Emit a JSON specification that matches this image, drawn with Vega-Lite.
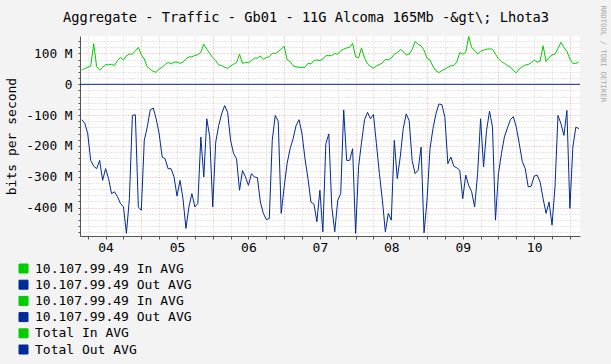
{
"$schema": "https://vega.github.io/schema/vega-lite/v6.json",
"width": 500, "height": 200,
"autosize": {"type": "none"},
"padding": {"left": 80, "top": 36, "right": 31, "bottom": 128},
"background": "#f3f3f3",
"view": {"fill": "#ffffff", "stroke": null},
"title": {"text": "Aggregate - Traffic - Gb01 - 11G Alcoma 165Mb -&gt\\; Lhota3", "font": "DejaVu Sans Mono", "fontSize": 13.7, "fontWeight": "normal", "color": "#000", "anchor": "middle", "frame": "group", "dx": -24, "offset": -19.5},
"layer": [
{
"data": {"values": [
{"t":"2024-06-04T04:00","In":46,"Out":-115},{"t":"2024-06-04T05:00","In":51,"Out":-126},{"t":"2024-06-04T06:00","In":55,"Out":-161},{"t":"2024-06-04T07:00","In":59,"Out":-247},{"t":"2024-06-04T08:00","In":132,"Out":-266},{"t":"2024-06-04T09:00","In":57,"Out":-274},{"t":"2024-06-04T10:00","In":46,"Out":-247},{"t":"2024-06-04T11:00","In":55,"Out":-312},{"t":"2024-06-04T12:00","In":64,"Out":-274},{"t":"2024-06-04T13:00","In":63,"Out":-306},{"t":"2024-06-04T14:00","In":65,"Out":-355},{"t":"2024-06-04T15:00","In":61,"Out":-349},{"t":"2024-06-04T16:00","In":77,"Out":-365},{"t":"2024-06-04T17:00","In":87,"Out":-387},{"t":"2024-06-04T18:00","In":79,"Out":-398},{"t":"2024-06-04T19:00","In":93,"Out":-484},{"t":"2024-06-04T20:00","In":98,"Out":-371},{"t":"2024-06-04T21:00","In":98,"Out":-101},{"t":"2024-06-04T22:00","In":109,"Out":-99},{"t":"2024-06-04T23:00","In":120,"Out":-398},
{"t":"2024-06-05T00:00","In":96,"Out":-409},{"t":"2024-06-05T01:00","In":82,"Out":-182},{"t":"2024-06-05T02:00","In":57,"Out":-139},{"t":"2024-06-05T03:00","In":49,"Out":-83},{"t":"2024-06-05T04:00","In":42,"Out":-77},{"t":"2024-06-05T05:00","In":39,"Out":-112},{"t":"2024-06-05T06:00","In":50,"Out":-161},{"t":"2024-06-05T07:00","In":55,"Out":-236},{"t":"2024-06-05T08:00","In":64,"Out":-242},{"t":"2024-06-05T09:00","In":71,"Out":-274},{"t":"2024-06-05T10:00","In":66,"Out":-274},{"t":"2024-06-05T11:00","In":72,"Out":-301},{"t":"2024-06-05T12:00","In":72,"Out":-363},{"t":"2024-06-05T13:00","In":68,"Out":-312},{"t":"2024-06-05T14:00","In":72,"Out":-371},{"t":"2024-06-05T15:00","In":82,"Out":-468},{"t":"2024-06-05T16:00","In":89,"Out":-398},{"t":"2024-06-05T17:00","In":89,"Out":-355},{"t":"2024-06-05T18:00","In":94,"Out":-398},{"t":"2024-06-05T19:00","In":96,"Out":-387},{"t":"2024-06-05T20:00","In":104,"Out":-171},{"t":"2024-06-05T21:00","In":130,"Out":-301},{"t":"2024-06-05T22:00","In":114,"Out":-112},{"t":"2024-06-05T23:00","In":100,"Out":-171},
{"t":"2024-06-06T00:00","In":87,"Out":-398},{"t":"2024-06-06T01:00","In":77,"Out":-188},{"t":"2024-06-06T02:00","In":63,"Out":-134},{"t":"2024-06-06T03:00","In":61,"Out":-96},{"t":"2024-06-06T04:00","In":55,"Out":-69},{"t":"2024-06-06T05:00","In":52,"Out":-91},{"t":"2024-06-06T06:00","In":59,"Out":-182},{"t":"2024-06-06T07:00","In":65,"Out":-225},{"t":"2024-06-06T08:00","In":70,"Out":-242},{"t":"2024-06-06T09:00","In":98,"Out":-344},{"t":"2024-06-06T10:00","In":68,"Out":-280},{"t":"2024-06-06T11:00","In":71,"Out":-301},{"t":"2024-06-06T12:00","In":70,"Out":-328},{"t":"2024-06-06T13:00","In":77,"Out":-290},{"t":"2024-06-06T14:00","In":85,"Out":-301},{"t":"2024-06-06T15:00","In":85,"Out":-303},{"t":"2024-06-06T16:00","In":92,"Out":-382},{"t":"2024-06-06T17:00","In":81,"Out":-419},{"t":"2024-06-06T18:00","In":87,"Out":-439},{"t":"2024-06-06T19:00","In":89,"Out":-436},{"t":"2024-06-06T20:00","In":101,"Out":-182},{"t":"2024-06-06T21:00","In":100,"Out":-101},{"t":"2024-06-06T22:00","In":106,"Out":-120},{"t":"2024-06-06T23:00","In":114,"Out":-419},
{"t":"2024-06-07T00:00","In":124,"Out":-333},{"t":"2024-06-07T01:00","In":79,"Out":-256},{"t":"2024-06-07T02:00","In":74,"Out":-209},{"t":"2024-06-07T03:00","In":60,"Out":-177},{"t":"2024-06-07T04:00","In":57,"Out":-134},{"t":"2024-06-07T05:00","In":55,"Out":-115},{"t":"2024-06-07T06:00","In":55,"Out":-161},{"t":"2024-06-07T07:00","In":55,"Out":-242},{"t":"2024-06-07T08:00","In":68,"Out":-306},{"t":"2024-06-07T09:00","In":66,"Out":-382},{"t":"2024-06-07T10:00","In":77,"Out":-389},{"t":"2024-06-07T11:00","In":79,"Out":-446},{"t":"2024-06-07T12:00","In":77,"Out":-344},{"t":"2024-06-07T13:00","In":82,"Out":-479},{"t":"2024-06-07T14:00","In":93,"Out":-193},{"t":"2024-06-07T15:00","In":93,"Out":-161},{"t":"2024-06-07T16:00","In":93,"Out":-398},{"t":"2024-06-07T17:00","In":100,"Out":-479},{"t":"2024-06-07T18:00","In":98,"Out":-376},{"t":"2024-06-07T19:00","In":109,"Out":-355},{"t":"2024-06-07T20:00","In":114,"Out":-83},{"t":"2024-06-07T21:00","In":118,"Out":-247},{"t":"2024-06-07T22:00","In":120,"Out":-247},{"t":"2024-06-07T23:00","In":133,"Out":-209},
{"t":"2024-06-08T00:00","In":89,"Out":-484},{"t":"2024-06-08T01:00","In":87,"Out":-268},{"t":"2024-06-08T02:00","In":118,"Out":-188},{"t":"2024-06-08T03:00","In":85,"Out":-115},{"t":"2024-06-08T04:00","In":66,"Out":-91},{"t":"2024-06-08T05:00","In":58,"Out":-112},{"t":"2024-06-08T06:00","In":52,"Out":-98},{"t":"2024-06-08T07:00","In":59,"Out":-193},{"t":"2024-06-08T08:00","In":64,"Out":-290},{"t":"2024-06-08T09:00","In":69,"Out":-376},{"t":"2024-06-08T10:00","In":81,"Out":-479},{"t":"2024-06-08T11:00","In":79,"Out":-419},{"t":"2024-06-08T12:00","In":85,"Out":-441},{"t":"2024-06-08T13:00","In":98,"Out":-182},{"t":"2024-06-08T14:00","In":102,"Out":-306},{"t":"2024-06-08T15:00","In":113,"Out":-236},{"t":"2024-06-08T16:00","In":107,"Out":-144},{"t":"2024-06-08T17:00","In":95,"Out":-96},{"t":"2024-06-08T18:00","In":98,"Out":-118},{"t":"2024-06-08T19:00","In":113,"Out":-247},{"t":"2024-06-08T20:00","In":139,"Out":-290},{"t":"2024-06-08T21:00","In":130,"Out":-279},{"t":"2024-06-08T22:00","In":125,"Out":-204},{"t":"2024-06-08T23:00","In":111,"Out":-482},
{"t":"2024-06-09T00:00","In":84,"Out":-376},{"t":"2024-06-09T01:00","In":79,"Out":-209},{"t":"2024-06-09T02:00","In":58,"Out":-144},{"t":"2024-06-09T03:00","In":44,"Out":-96},{"t":"2024-06-09T04:00","In":38,"Out":-64},{"t":"2024-06-09T05:00","In":45,"Out":-66},{"t":"2024-06-09T06:00","In":49,"Out":-107},{"t":"2024-06-09T07:00","In":55,"Out":-258},{"t":"2024-06-09T08:00","In":60,"Out":-236},{"t":"2024-06-09T09:00","In":61,"Out":-266},{"t":"2024-06-09T10:00","In":72,"Out":-271},{"t":"2024-06-09T11:00","In":103,"Out":-279},{"t":"2024-06-09T12:00","In":98,"Out":-371},{"t":"2024-06-09T13:00","In":103,"Out":-295},{"t":"2024-06-09T14:00","In":155,"Out":-328},{"t":"2024-06-09T15:00","In":120,"Out":-349},{"t":"2024-06-09T16:00","In":109,"Out":-398},{"t":"2024-06-09T17:00","In":98,"Out":-290},{"t":"2024-06-09T18:00","In":107,"Out":-112},{"t":"2024-06-09T19:00","In":111,"Out":-268},{"t":"2024-06-09T20:00","In":114,"Out":-150},{"t":"2024-06-09T21:00","In":115,"Out":-87},{"t":"2024-06-09T22:00","In":114,"Out":-139},{"t":"2024-06-09T23:00","In":98,"Out":-441},
{"t":"2024-06-10T00:00","In":83,"Out":-290},{"t":"2024-06-10T01:00","In":74,"Out":-225},{"t":"2024-06-10T02:00","In":68,"Out":-171},{"t":"2024-06-10T03:00","In":61,"Out":-142},{"t":"2024-06-10T04:00","In":56,"Out":-115},{"t":"2024-06-10T05:00","In":45,"Out":-105},{"t":"2024-06-10T06:00","In":37,"Out":-139},{"t":"2024-06-10T07:00","In":50,"Out":-193},{"t":"2024-06-10T08:00","In":57,"Out":-250},{"t":"2024-06-10T09:00","In":63,"Out":-274},{"t":"2024-06-10T10:00","In":64,"Out":-333},{"t":"2024-06-10T11:00","In":70,"Out":-331},{"t":"2024-06-10T12:00","In":79,"Out":-298},{"t":"2024-06-10T13:00","In":72,"Out":-295},{"t":"2024-06-10T14:00","In":75,"Out":-317},{"t":"2024-06-10T15:00","In":125,"Out":-371},{"t":"2024-06-10T16:00","In":74,"Out":-419},{"t":"2024-06-10T17:00","In":87,"Out":-382},{"t":"2024-06-10T18:00","In":95,"Out":-457},{"t":"2024-06-10T19:00","In":98,"Out":-333},{"t":"2024-06-10T20:00","In":116,"Out":-101},{"t":"2024-06-10T21:00","In":136,"Out":-128},{"t":"2024-06-10T22:00","In":120,"Out":-166},{"t":"2024-06-10T23:00","In":107,"Out":-85},
{"t":"2024-06-11T00:00","In":82,"Out":-403},{"t":"2024-06-11T01:00","In":68,"Out":-204},{"t":"2024-06-11T02:00","In":68,"Out":-139},{"t":"2024-06-11T03:00","In":72,"Out":-144}
]},
"transform": [{"fold": ["In", "Out"], "as": ["key", "v"]}],
"mark": {"type": "line", "strokeWidth": 1},
"encoding": {
"x": {"field": "t", "type": "temporal",
 "scale": {"domain": [{"year": 2024, "month": 6, "date": 4, "hours": 3, "minutes": 24}, {"year": 2024, "month": 6, "date": 11, "hours": 3, "minutes": 24}]},
 "axis": {"title": null, "tickCount": 28, "labelFont": "DejaVu Sans Mono",
  "labelExpr": "hours(datum.value) == 12 ? timeFormat(datum.value, '%d') : ''",
  "labelOverlap": false, "labelFlush": false, "labelFontSize": 13, "labelPadding": 2, "labelColor": "#000",
  "tickSize": 3, "tickColor": "#555555", "domainColor": "#555555",
  "grid": true, "gridColor": {"condition": {"test": "hours(datum.value) == 0", "value": "#f2a0a0"}, "value": "#cfcfcf"}, "gridDash": [1, 2], "gridWidth": 1}},
"y": {"field": "v", "type": "quantitative",
 "scale": {"domain": [-492.5, 156.8], "nice": false, "zero": false},
 "axis": {"title": "bits per second", "titleFont": "DejaVu Sans Mono", "titleFontWeight": "normal", "titleColor": "#000", "titleFontSize": 13, "titleX": -69, "titleBaseline": "middle",
  "tickCount": 33,
  "labelExpr": "datum.value % 100 == 0 ? (datum.value == 0 ? '0' : datum.value + ' M') : ''",
  "labelOverlap": false, "labelFlush": false,
  "labelFont": "DejaVu Sans Mono", "labelColor": "#000", "labelFontSize": 12.8, "labelPadding": 6, "tickSize": 2, "tickColor": "#555555", "domainColor": "#555555",
  "grid": true, "gridColor": {"condition": {"test": "datum.value % 100 == 0", "value": "#f2a0a0"}, "value": "#cfcfcf"}, "gridDash": [1, 2], "gridWidth": 1}},
"color": {"field": "key", "type": "nominal",
 "scale": {"domain": ["h1In", "h1Out", "h2In", "h2Out", "In", "Out"], "range": ["#00cc00", "#002a97", "#00cc00", "#002a97", "#00cc00", "#002a97"]},
 "legend": {"orient": "none", "legendX": -63, "legendY": 226, "title": null, "padding": 0,
  "symbolType": "square", "symbolSize": 81, "symbolStrokeWidth": 1,
  "labelFont": "DejaVu Sans Mono", "labelFontSize": 13, "labelColor": "#000", "labelOffset": 5, "labelLimit": 400, "rowPadding": 2.2,
  "labelExpr": "datum.value == 'In' ? 'Total In AVG' : datum.value == 'Out' ? 'Total Out AVG' : (datum.value == 'h1In' || datum.value == 'h2In') ? '10.107.99.49 In AVG' : '10.107.99.49 Out AVG'",
  "encode": {"symbols": {"update": {"fill": {"scale": "color", "field": "value"}, "stroke": {"value": "#000000"}, "strokeWidth": {"value": 1}, "opacity": {"value": 1}}}}}}
}
},
{
"data": {"values": [{"level": 0}]},
"mark": {"type": "rule", "color": "#002a97", "strokeWidth": 1},
"encoding": {
"y": {"field": "level", "type": "quantitative",
 "axis": {"orient": "right", "title": "RRDTOOL / TOBI OETIKER", "labels": false, "ticks": false, "domain": false, "grid": false,
  "titleAngle": 90, "titleAlign": "left", "titleBaseline": "middle", "titleX": 22, "titleY": -31,
  "titleFont": "DejaVu Sans Mono", "titleFontWeight": "normal", "titleFontSize": 7.3, "titleColor": "#a8a8a8"}}
}
}
],
"resolve": {"axis": {"y": "independent"}}
}
